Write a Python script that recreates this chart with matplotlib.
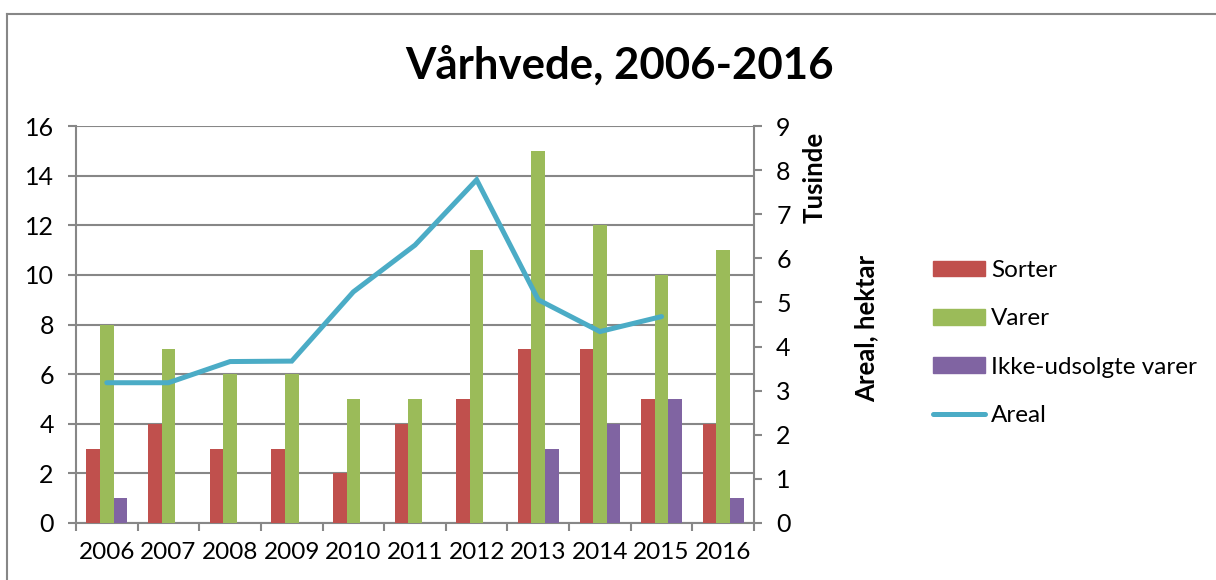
import numpy as np
import matplotlib.pyplot as plt
from matplotlib.lines import Line2D
from matplotlib.patches import Patch

plt.rcParams['font.family'] = ['Lato', 'DejaVu Sans']

years = ['2006', '2007', '2008', '2009', '2010', '2011', '2012', '2013', '2014', '2015', '2016']
sorter = [3, 4, 3, 3, 2, 4, 5, 7, 7, 5, 4]
varer = [8, 7, 6, 6, 5, 5, 11, 15, 12, 10, 11]
ikke_udsolgte = [1, 0, 0, 0, 0, 0, 0, 3, 4, 5, 1]
areal = [3.18, 3.18, 3.66, 3.67, 5.24, 6.30, 7.78, 5.06, 4.34, 4.68, np.nan]  # tusinde hektar

c_red = '#C0504D'
c_green = '#9BBB59'
c_purple = '#8064A2'
c_line = '#4BACC6'
c_axis = '#878787'

W, H = 1216, 580
fig = plt.figure(figsize=(W / 100, H / 100), dpi=100)
fig.patch.set_facecolor('white')

# plot area in pixels
x0, x1, ytop, ybot = 76, 754, 126, 523
ax = fig.add_axes([x0 / W, (H - ybot) / H, (x1 - x0) / W, (ybot - ytop) / H])

x = np.arange(len(years))
bw = 0.22
ax.bar(x - bw, sorter, bw, color=c_red, zorder=3)
ax.bar(x, varer, bw, color=c_green, zorder=3)
ax.bar(x + bw, ikke_udsolgte, bw, color=c_purple, zorder=3)

ax.set_xlim(-0.5, len(years) - 0.5)
ax.set_ylim(0, 16)
ax.set_yticks(range(0, 17, 2))
ax.set_xticks(x)
ax.set_xticklabels(years)
ax.set_xticks(np.arange(-0.5, len(years), 1), minor=True)
ax.tick_params(axis='x', which='major', length=0, pad=14, labelsize=17.5)
ax.tick_params(axis='x', which='minor', length=6, width=1.5, color=c_axis, direction='out')
ax.tick_params(axis='y', length=6, width=1.5, color=c_axis, pad=10, labelsize=18)
ax.yaxis.grid(True, color=c_axis, linewidth=1.5, zorder=0)
ax.set_axisbelow(True)
for s in ['top', 'right']:
    ax.spines[s].set_visible(False)
for s in ['left', 'bottom']:
    ax.spines[s].set_color(c_axis)
    ax.spines[s].set_linewidth(1.5)

ax2 = ax.twinx()
ax2.plot(x, areal, color=c_line, linewidth=3.6, solid_capstyle='round', solid_joinstyle='miter', zorder=5)
ax2.set_ylim(0, 9)
ax2.set_yticks(range(0, 10))
ax2.tick_params(axis='y', length=6, width=1.5, color=c_axis, pad=10, labelsize=18)
for s in ['top', 'left', 'bottom']:
    ax2.spines[s].set_visible(False)
ax2.spines['right'].set_color(c_axis)
ax2.spines['right'].set_linewidth(1.5)

fig.text(620 / W, 1 - 66 / H, 'Vårhvede, 2006-2016', ha='center', va='center',
         fontsize=31.5, fontweight='bold')
fig.text(815 / W, 1 - 177 / H, 'Tusinde', rotation=90, ha='center', va='center',
         fontsize=18.5, fontweight='bold')
fig.text(866 / W, 1 - 328 / H, 'Areal, hektar', rotation=90, ha='center', va='center',
         fontsize=18.5, fontweight='bold')

handles = [Patch(color=c_red), Patch(color=c_green), Patch(color=c_purple),
           Line2D([], [], color=c_line, linewidth=3.6, solid_capstyle='round')]
labels = ['Sorter', 'Varer', 'Ikke-udsolgte varer', 'Areal']
fig.legend(handles, labels, loc='center left', bbox_to_anchor=(933 / W, 1 - 343 / H),
           frameon=False, fontsize=17.5, handlelength=2.15, handleheight=0.62,
           handletextpad=0.25, labelspacing=1.12, borderpad=0, borderaxespad=0)

# chart frame (only top and left edges visible)
fig.add_artist(Line2D([7 / W, 1], [1 - 14 / H, 1 - 14 / H], color=c_axis, linewidth=1.5))
fig.add_artist(Line2D([7 / W, 7 / W], [0, 1 - 14 / H], color=c_axis, linewidth=1.5))

fig.savefig('out.png', dpi=100, facecolor='white')
